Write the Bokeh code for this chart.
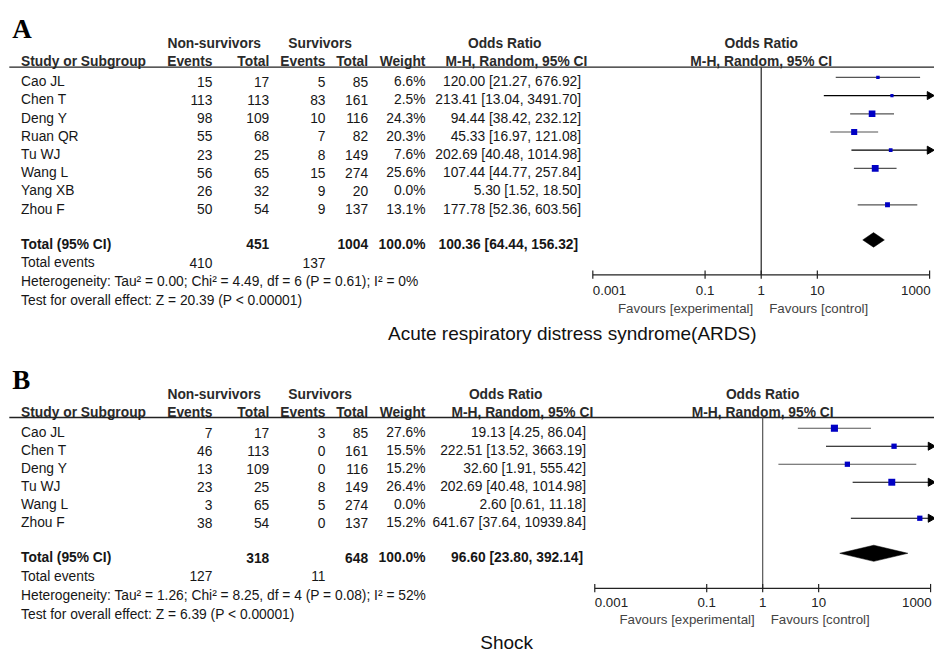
import math
from bokeh.plotting import figure
from bokeh.models import Range1d, LogScale, ColumnDataSource
from bokeh.core.properties import value
from bokeh.embed import file_html
from bokeh.resources import INLINE

# ---------------- Panel A data (ARDS) ----------------
a_studies = ["Cao JL", "Chen T", "Deng Y", "Ruan QR", "Tu WJ", "Wang L", "Yang XB", "Zhou F"]
a_ns_events = [15, 113, 98, 55, 23, 56, 26, 50]
a_ns_total = [17, 113, 109, 68, 25, 65, 32, 54]
a_s_events = [5, 83, 10, 7, 8, 15, 9, 9]
a_s_total = [85, 161, 116, 82, 149, 274, 20, 137]
a_weight = [6.6, 2.5, 24.3, 20.3, 7.6, 25.6, 0.0, 13.1]
a_or = [120.00, 213.41, 94.44, 45.33, 202.69, 107.44, 5.30, 177.78]
a_lo = [21.27, 13.04, 38.42, 16.97, 40.48, 44.77, 1.52, 52.36]
a_hi = [676.92, 3491.70, 232.12, 121.08, 1014.98, 257.84, 18.50, 603.56]
a_tot_ns_total = 451
a_tot_s_total = 1004
a_tot_weight = 100.0
a_tot_or = [100.36, 64.44, 156.32]
a_tot_events = [410, 137]
a_het = "Heterogeneity: Tau\u00b2 = 0.00; Chi\u00b2 = 4.49, df = 6 (P = 0.61); I\u00b2 = 0%"
a_test = "Test for overall effect: Z = 20.39 (P < 0.00001)"
a_title = "Acute respiratory distress syndrome(ARDS)"

# ---------------- Panel B data (Shock) ----------------
b_studies = ["Cao JL", "Chen T", "Deng Y", "Tu WJ", "Wang L", "Zhou F"]
b_ns_events = [7, 46, 13, 23, 3, 38]
b_ns_total = [17, 113, 109, 25, 65, 54]
b_s_events = [3, 0, 0, 8, 5, 0]
b_s_total = [85, 161, 116, 149, 274, 137]
b_weight = [27.6, 15.5, 15.2, 26.4, 0.0, 15.2]
b_or = [19.13, 222.51, 32.60, 202.69, 2.60, 641.67]
b_lo = [4.25, 13.52, 1.91, 40.48, 0.61, 37.64]
b_hi = [86.04, 3663.19, 555.42, 1014.98, 11.18, 10939.84]
b_tot_ns_total = 318
b_tot_s_total = 648
b_tot_weight = 100.0
b_tot_or = [96.60, 23.80, 392.14]
b_tot_events = [127, 11]
b_het = "Heterogeneity: Tau\u00b2 = 1.26; Chi\u00b2 = 8.25, df = 4 (P = 0.08); I\u00b2 = 52%"
b_test = "Test for overall effect: Z = 6.39 (P < 0.00001)"
b_title = "Shock"

# axis ticks
tick_values = [0.001, 0.1, 1, 10, 1000]
tick_labels = ["0.001", "0.1", "1", "10", "1000"]
fav_left = "Favours [experimental]"
fav_right = "Favours [control]"

FONT = "Liberation Sans"
FS = "13.8px"
X0, X1 = -4, 950
Y0, Y1 = 668, -4

p = figure(width=934, height=654, x_range=Range1d(X0, X1), y_range=Range1d(Y0, Y1),
           output_backend="svg", toolbar_location=None, min_border=0,
           x_axis_location=None, y_axis_location=None)
p.grid.visible = False
p.outline_line_color = None
p.background_fill_color = "white"
p.border_fill_color = "white"


def txt(xs, ys, texts, align="left", bold=False, size=FS, color="#161616",
        font=FONT, rng=None, x_offset=0):
    src = ColumnDataSource(dict(x=list(xs), y=list(ys), t=list(texts)))
    kw = {}
    if rng:
        kw["x_range_name"] = rng
    p.text(x="x", y="y", text="t", source=src, text_align=align, text_baseline="middle",
           text_font=value(font), text_font_size=value(size),
           text_font_style="bold" if bold else "normal", text_color=color,
           x_offset=x_offset, **kw)


def fmt_ci(o, l, h):
    return f"{o:.2f} [{l:.2f}, {h:.2f}]"


def draw_panel(rng, letter, studies, nse, nst, se, st, w, orr, lo, hi,
               tot_nst, tot_st, tot_w, tot_or, tot_ev, het, test, title, L):
    # log scale for forest region
    d = (L["ax_right"] - L["ax_left"]) / 6.0
    lo_log = -3 + (X0 - L["ax_left"]) / d
    hi_log = -3 + (X1 - L["ax_left"]) / d
    p.extra_x_ranges[rng] = Range1d(10 ** lo_log, 10 ** hi_log)
    p.extra_x_scales[rng] = LogScale()

    hc = "#2a2a2a"
    # panel letter
    txt([8], [L["letter_y"]], [letter], bold=True, size="27px", font="Liberation Serif", color="#000")
    # header row 1
    txt([L["c_ev1"] - 46, L["c_ev2"] - 38], [L["h1"]] * 2, ["Non-survivors", "Survivors"], bold=True, color=hc)
    txt([L["orhdr_x"]], [L["h1"]], ["Odds Ratio"], align="center", bold=True, color=hc)
    txt([1], [L["h1"]], ["Odds Ratio"], align="center", bold=True, color=hc, rng=rng)
    # header row 2
    txt([17], [L["h2"]], ["Study or Subgroup"], bold=True, color=hc)
    txt([L["c_ev1"], L["c_tot1"], L["c_ev2"], L["c_tot2"], L["c_w"]], [L["h2"]] * 5,
        ["Events", "Total", "Events", "Total", "Weight"], align="right", bold=True, color=hc)
    txt([L["mh_x"]], [L["h2"]], ["M-H, Random, 95% CI"], align="center", bold=True, color=hc)
    txt([1], [L["h2"]], ["M-H, Random, 95% CI"], align="center", bold=True, color=hc, rng=rng)
    p.segment(x0=[5], y0=[L["rule"]], x1=[950], y1=[L["rule"]], line_color="#222", line_width=1.3)

    n = len(studies)
    ys = [L["row0"] + i * L["step"] for i in range(n)]
    txt([17] * n, ys, studies)
    txt([L["c_ev1"]] * n, ys, [str(v) for v in nse], align="right")
    txt([L["c_tot1"]] * n, ys, [str(v) for v in nst], align="right")
    txt([L["c_ev2"]] * n, ys, [str(v) for v in se], align="right")
    txt([L["c_tot2"]] * n, ys, [str(v) for v in st], align="right")
    txt([L["c_w"]] * n, ys, [f"{v:.1f}%" for v in w], align="right")
    txt([L["c_or"]] * n, ys, [fmt_ci(o, l, h) for o, l, h in zip(orr, lo, hi)], align="right")

    # totals
    ty = L["total"]
    txt([17], [ty], ["Total (95% CI)"], bold=True)
    txt([L["c_tot1"], L["c_tot2"], L["c_w"]], [ty] * 3,
        [str(tot_nst), str(tot_st), f"{tot_w:.1f}%"], align="right", bold=True)
    txt([L["c_totor"]], [ty], [fmt_ci(*tot_or)], align="right", bold=True)
    txt([17], [L["tev"]], ["Total events"])
    txt([L["c_ev1"], L["c_ev2"]], [L["tev"]] * 2, [str(v) for v in tot_ev], align="right")
    txt([17], [L["het"]], [het])
    txt([17], [L["test"]], [test])

    # forest: vertical line at OR = 1
    p.segment(x0=[1], y0=[L["rule"]], x1=[1], y1=[L["axis"]], line_color=L["vcol"],
              line_width=1.2, x_range_name=rng)

    # study CIs (only studies with weight)
    idx = [i for i in range(n) if w[i] > 0]
    sy = [ys[i] - L["sq_off"] for i in idx]
    x0 = [lo[i] for i in idx]
    x1 = [min(hi[i], 1000) for i in idx]
    cols = ["#000000" if hi[i] > 1000 else "#555555" for i in idx]
    p.segment(x0=x0, y0=sy, x1=x1, y1=sy, line_color=cols, line_width=1.2, x_range_name=rng)
    arr = [i for i in idx if hi[i] > 1000]
    if arr:
        p.scatter(x=[1000] * len(arr), y=[ys[i] - L["sq_off"] for i in arr], marker="triangle",
                  size=8, angle=-math.pi / 2, color="#000000", x_range_name=rng)
    p.scatter(x=[orr[i] for i in idx], y=sy, marker="square",
              size=[max(3.2, 1.35 * math.sqrt(w[i])) for i in idx],
              color="#0000c4", line_width=0, x_range_name=rng)

    # pooled diamond
    dy = L["total"] - L["sq_off"]
    hh = L["dia_h"]
    p.patch(x=[tot_or[1], tot_or[0], tot_or[2], tot_or[0]], y=[dy, dy - hh, dy, dy + hh],
            color="#000000", line_width=0.5, x_range_name=rng)

    # axis
    ay = L["axis"]
    p.segment(x0=[tick_values[0]], y0=[ay], x1=[tick_values[-1]], y1=[ay], line_color="#222",
              line_width=1.2, x_range_name=rng)
    p.segment(x0=tick_values, y0=[ay - 4.5] * len(tick_values), x1=tick_values,
              y1=[ay + 4] * len(tick_values), line_color="#222", line_width=1.2, x_range_name=rng)
    txt([tick_values[0]], [L["tick"]], [tick_labels[0]], align="left", size="13.3px", rng=rng, color="#222")
    txt(tick_values[1:-1], [L["tick"]] * (len(tick_values) - 2), tick_labels[1:-1], align="center",
        size="13.3px", rng=rng, color="#222")
    txt([tick_values[-1]], [L["tick"]], [tick_labels[-1]], align="right", size="13.3px", rng=rng,
        color="#222", x_offset=1)
    txt([1], [L["fav"]], [fav_left], align="right", size="13.3px", rng=rng, color="#444", x_offset=-8)
    txt([1], [L["fav"]], [fav_right], align="left", size="13.3px", rng=rng, color="#444", x_offset=8)

    # subtitle
    txt([L["sub_x"]], [L["sub"]], [title], align="center", size="19px", color="#111")


LA = dict(letter_y=25, h1=40, h2=58.5, rule=64.5, row0=79.5, step=18.7, total=246.5, tev=265.5,
          het=285, test=304, axis=278, tick=294, fav=312, sub=338, sub_x=580,
          ax_left=601, ax_right=945, c_ev1=212.5, c_tot1=270.5, c_ev2=328, c_tot2=371.5, c_w=430,
          c_or=589, c_totor=586, orhdr_x=511, mh_x=523, sq_off=4.5, dia_h=7.5, vcol="#222")
LB = dict(letter_y=386, h1=401, h2=419.5, rule=424.5, row0=440, step=18.5, total=568.5, tev=587.5,
          het=607, test=626.5, axis=600, tick=615, fav=632, sub=656, sub_x=513,
          ax_left=603, ax_right=946, c_ev1=212.5, c_tot1=270.5, c_ev2=328, c_tot2=371.5, c_w=430,
          c_or=594, c_totor=591, orhdr_x=512, mh_x=529, sq_off=4.5, dia_h=8.3, vcol="#555")

p.extra_x_ranges = {}
p.extra_x_scales = {}
draw_panel("lgA", "A", a_studies, a_ns_events, a_ns_total, a_s_events, a_s_total, a_weight,
           a_or, a_lo, a_hi, a_tot_ns_total, a_tot_s_total, a_tot_weight, a_tot_or, a_tot_events,
           a_het, a_test, a_title, LA)
draw_panel("lgB", "B", b_studies, b_ns_events, b_ns_total, b_s_events, b_s_total, b_weight,
           b_or, b_lo, b_hi, b_tot_ns_total, b_tot_s_total, b_tot_weight, b_tot_or, b_tot_events,
           b_het, b_test, b_title, LB)

open("out.html", "w").write(file_html(p, INLINE))
